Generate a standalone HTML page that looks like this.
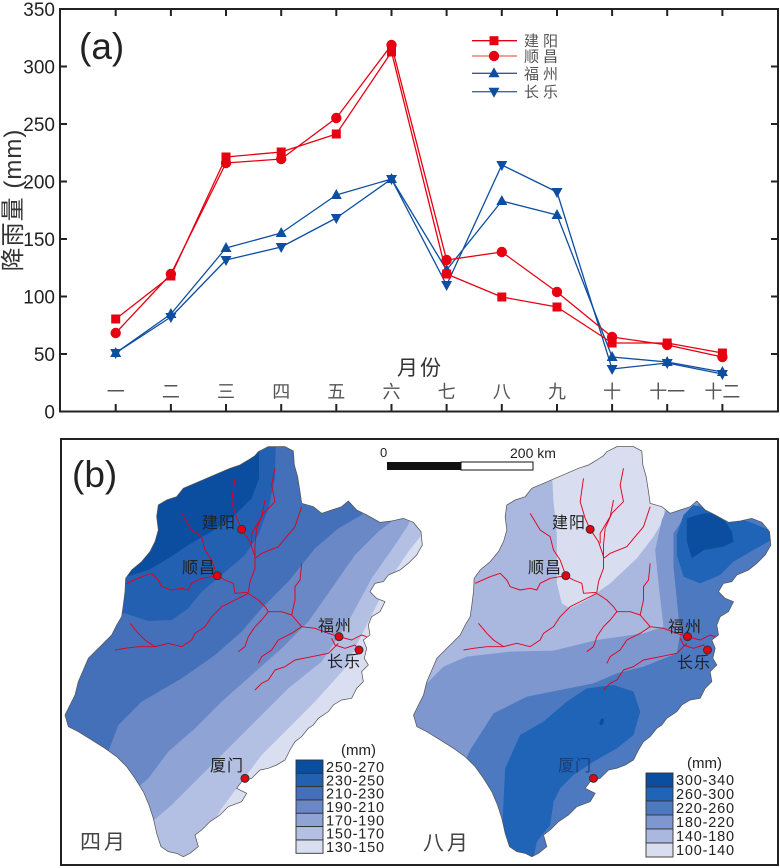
<!DOCTYPE html>
<html><head><meta charset="utf-8"><style>
html,body{margin:0;padding:0;background:#fff;}
svg{display:block;}
text{font-family:"Liberation Sans","Noto Sans CJK SC",sans-serif;}
.cjk{font-family:"Liberation Sans","Noto Sans CJK SC",sans-serif;}
</style></head><body>
<svg width="780" height="868" viewBox="0 0 780 868" xmlns="http://www.w3.org/2000/svg">
<defs>
<path id="outline" d="M 610,50 L 640,35 L 690,35 L 715,48 L 718,90 L 728,125 L 735,170 L 740,205 L 775,215 L 800,235 L 830,225 L 860,215 L 880,198 L 905,225 L 935,240 L 975,262 L 1010,258 L 1045,250 L 1075,262 L 1098,290 L 1102,330 L 1085,360 L 1060,385 L 1035,405 L 1000,420 L 985,440 L 960,445 L 945,470 L 965,490 L 990,500 L 975,530 L 950,545 L 940,570 L 945,600 L 925,615 L 935,640 L 928,670 L 940,690 L 920,710 L 925,740 L 905,760 L 890,790 L 860,795 L 835,810 L 820,830 L 790,850 L 775,870 L 760,880 L 740,905 L 720,920 L 705,945 L 690,975 L 665,990 L 640,1000 L 615,1005 L 590,1030 L 560,1040 L 545,1060 L 575,1075 L 560,1100 L 520,1115 L 495,1140 L 465,1160 L 440,1185 L 420,1200 L 430,1235 L 405,1255 L 385,1265 L 365,1255 L 340,1250 L 318,1235 L 305,1195 L 295,1150 L 282,1110 L 265,1070 L 240,1030 L 215,995 L 185,965 L 150,940 L 110,915 L 70,890 L 40,875 L 30,840 L 45,810 L 60,780 L 70,740 L 85,705 L 100,670 L 120,650 L 145,625 L 170,600 L 185,570 L 200,545 L 205,510 L 210,470 L 212,430 L 230,405 L 260,380 L 285,350 L 300,320 L 310,285 L 305,245 L 310,210 L 335,195 L 365,185 L 385,160 L 420,145 L 455,130 L 490,115 L 525,100 L 555,90 L 580,75 L 600,62 Z"/>
<clipPath id="clipmap" clipPathUnits="userSpaceOnUse"><use href="#outline"/></clipPath>
<g id="rivers" fill="none" stroke="#e3001b" stroke-width="2.8" stroke-linejoin="round">
<polyline points="540,130 530,200 545,250 560,283 585,320 600,365 600,400 585,440 580,472"/>
<polyline points="660,100 650,150 660,200 625,235 605,280 600,330 600,365"/>
<polyline points="630,195 620,245 590,295 590,325"/>
<polyline points="740,215 720,275 670,335 620,355 600,370"/>
<polyline points="380,235 410,285 440,305 450,345 470,375 487,422 510,435 535,445 540,475 580,472"/>
<polyline points="215,445 260,425 290,415 310,435 320,455 350,465 380,460 400,465 410,445 440,430 487,422"/>
<polyline points="580,475 540,495 500,515 470,545 450,575 420,595 410,615 380,635 340,625 300,635 250,635 210,640 180,645"/>
<polyline points="225,565 250,595 270,615 300,635"/>
<polyline points="580,475 610,495 630,515 640,530 680,530 710,540 740,575 780,580 820,595 852,605 890,615 920,600 935,605"/>
<polyline points="740,385 735,435 720,455 720,495 710,540"/>
<polyline points="640,530 620,555 600,575 580,605 570,635 550,650"/>
<polyline points="740,575 710,595 670,615 650,645 620,665 610,685"/>
<polyline points="850,625 820,655 770,665 720,675 690,695 660,705 640,735 620,745 600,765"/>
<polyline points="830,610 840,630 870,640 900,630 912,645"/>
</g>
<g id="cities" fill="#e60012" stroke="#333" stroke-width="3">
<circle cx="560" cy="283" r="12"/>
<circle cx="487" cy="422" r="12"/>
<circle cx="852" cy="605" r="12"/>
<circle cx="912" cy="645" r="12"/>
<circle cx="570" cy="1030" r="12"/>
</g>
</defs>

<!-- ================= Chart (a) ================= -->
<g stroke="#222" stroke-width="2" fill="none">
<rect x="60" y="9" width="718" height="402.5"/>
</g>
<g stroke="#222" stroke-width="2">
<line x1="115.7" y1="9" x2="115.7" y2="16"/><line x1="170.9" y1="9" x2="170.9" y2="16"/><line x1="226" y1="9" x2="226" y2="16"/><line x1="281.2" y1="9" x2="281.2" y2="16"/><line x1="336.3" y1="9" x2="336.3" y2="16"/><line x1="391.5" y1="9" x2="391.5" y2="16"/><line x1="446.6" y1="9" x2="446.6" y2="16"/><line x1="501.8" y1="9" x2="501.8" y2="16"/><line x1="557" y1="9" x2="557" y2="16"/><line x1="612.1" y1="9" x2="612.1" y2="16"/><line x1="667.2" y1="9" x2="667.2" y2="16"/><line x1="722.4" y1="9" x2="722.4" y2="16"/>
<line x1="115.7" y1="404" x2="115.7" y2="411"/><line x1="170.9" y1="404" x2="170.9" y2="411"/><line x1="226" y1="404" x2="226" y2="411"/><line x1="281.2" y1="404" x2="281.2" y2="411"/><line x1="336.3" y1="404" x2="336.3" y2="411"/><line x1="391.5" y1="404" x2="391.5" y2="411"/><line x1="446.6" y1="404" x2="446.6" y2="411"/><line x1="501.8" y1="404" x2="501.8" y2="411"/><line x1="557" y1="404" x2="557" y2="411"/><line x1="612.1" y1="404" x2="612.1" y2="411"/><line x1="667.2" y1="404" x2="667.2" y2="411"/><line x1="722.4" y1="404" x2="722.4" y2="411"/>
<line x1="60" y1="354" x2="67" y2="354"/><line x1="60" y1="296.5" x2="67" y2="296.5"/><line x1="60" y1="239" x2="67" y2="239"/><line x1="60" y1="181.5" x2="67" y2="181.5"/><line x1="60" y1="124" x2="67" y2="124"/><line x1="60" y1="66.5" x2="67" y2="66.5"/>
<line x1="771" y1="354" x2="778" y2="354"/><line x1="771" y1="296.5" x2="778" y2="296.5"/><line x1="771" y1="239" x2="778" y2="239"/><line x1="771" y1="181.5" x2="778" y2="181.5"/><line x1="771" y1="124" x2="778" y2="124"/><line x1="771" y1="66.5" x2="778" y2="66.5"/>
</g>
<g font-size="19" fill="#222" text-anchor="end">
<text x="55" y="418.5">0</text><text x="55" y="361">50</text><text x="55" y="303.5">100</text><text x="55" y="246">150</text><text x="55" y="188.5">200</text><text x="55" y="131">250</text><text x="55" y="73.5">300</text><text x="55" y="16">350</text>
</g>
<text class="cjk" transform="translate(21,200) rotate(-90)" text-anchor="middle" font-size="24" fill="#333" letter-spacing="1">降雨量 (mm)</text>
<text x="79" y="59" font-size="37" fill="#222">(a)</text>

<g class="cjk" font-size="18" fill="#555" text-anchor="middle">
<text x="115.7" y="398">一</text><text x="170.9" y="398">二</text><text x="226" y="398">三</text><text x="281.2" y="398">四</text><text x="336.3" y="398">五</text><text x="391.5" y="398">六</text><text x="446.6" y="398">七</text><text x="501.8" y="398">八</text><text x="557" y="398">九</text><text x="612.1" y="398">十</text><text x="667.2" y="398">十一</text><text x="722.4" y="398">十二</text>
</g>
<text class="cjk" x="420" y="375" font-size="21" fill="#333" text-anchor="middle" letter-spacing="2">月份</text>

<!-- series lines -->
<g fill="none" stroke-width="1.3" stroke-linejoin="round">
<polyline stroke="#0d4ea0" points="115.7,353 170.9,314 226,248 281.2,233 336.3,195 391.5,179 446.6,270 501.8,201 557,215 612.1,357 667.2,362 722.4,372"/>
<polyline stroke="#0d4ea0" points="115.7,353 170.9,317 226,260 281.2,247 336.3,218 391.5,179 446.6,285 501.8,165 557,192 612.1,369 667.2,363 722.4,374"/>
<polyline stroke="#e60012" points="115.7,319 170.9,276 226,157 281.2,152 336.3,134 391.5,52 446.6,274 501.8,297 557,307 612.1,343 667.2,343 722.4,353"/>
<polyline stroke="#e60012" points="115.7,333 170.9,274 226,163 281.2,159 336.3,118 391.5,45 446.6,260 501.8,252 557,292 612.1,337 667.2,345 722.4,357"/>
</g>
<!-- markers -->
<g fill="#0d4ea0">
<polygon points="115.7,347 110.2,357 121.2,357"/><polygon points="170.9,308 165.4,318 176.4,318"/><polygon points="226,242 220.5,252 231.5,252"/><polygon points="281.2,227 275.7,237 286.7,237"/><polygon points="336.3,189 330.8,199 341.8,199"/><polygon points="391.5,173 386,183 397,183"/><polygon points="446.6,264 441.1,274 452.1,274"/><polygon points="501.8,195 496.3,205 507.3,205"/><polygon points="557,209 551.5,219 562.5,219"/><polygon points="612.1,351 606.6,361 617.6,361"/><polygon points="667.2,356 661.7,366 672.7,366"/><polygon points="722.4,366 716.9,376 727.9,376"/>
<polygon points="115.7,359 110.2,349 121.2,349"/><polygon points="170.9,323 165.4,313 176.4,313"/><polygon points="226,266 220.5,256 231.5,256"/><polygon points="281.2,253 275.7,243 286.7,243"/><polygon points="336.3,224 330.8,214 341.8,214"/><polygon points="391.5,185 386,175 397,175"/><polygon points="446.6,291 441.1,281 452.1,281"/><polygon points="501.8,171 496.3,161 507.3,161"/><polygon points="557,198 551.5,188 562.5,188"/><polygon points="612.1,375 606.6,365 617.6,365"/><polygon points="667.2,369 661.7,359 672.7,359"/><polygon points="722.4,380 716.9,370 727.9,370"/>
</g>
<g fill="#e60012">
<rect x="111.2" y="314.5" width="9" height="9"/><rect x="166.4" y="271.5" width="9" height="9"/><rect x="221.5" y="152.5" width="9" height="9"/><rect x="276.7" y="147.5" width="9" height="9"/><rect x="331.8" y="129.5" width="9" height="9"/><rect x="387" y="47.5" width="9" height="9"/><rect x="442.1" y="269.5" width="9" height="9"/><rect x="497.3" y="292.5" width="9" height="9"/><rect x="552.5" y="302.5" width="9" height="9"/><rect x="607.6" y="338.5" width="9" height="9"/><rect x="662.7" y="338.5" width="9" height="9"/><rect x="717.9" y="348.5" width="9" height="9"/>
<circle cx="115.7" cy="333" r="5.2"/><circle cx="170.9" cy="274" r="5.2"/><circle cx="226" cy="163" r="5.2"/><circle cx="281.2" cy="159" r="5.2"/><circle cx="336.3" cy="118" r="5.2"/><circle cx="391.5" cy="45" r="5.2"/><circle cx="446.6" cy="260" r="5.2"/><circle cx="501.8" cy="252" r="5.2"/><circle cx="557" cy="292" r="5.2"/><circle cx="612.1" cy="337" r="5.2"/><circle cx="667.2" cy="345" r="5.2"/><circle cx="722.4" cy="357" r="5.2"/>
</g>
<!-- legend -->
<g stroke-width="1.3">
<line x1="472" y1="40.7" x2="517" y2="40.7" stroke="#e60012"/>
<line x1="472" y1="56" x2="517" y2="56" stroke="#e06a50"/>
<line x1="472" y1="73.3" x2="517" y2="73.3" stroke="#2a5aa8"/>
<line x1="472" y1="91.7" x2="517" y2="91.7" stroke="#3a68b0"/>
</g>
<rect x="489.5" y="36.2" width="9" height="9" fill="#e60012"/>
<circle cx="494" cy="56" r="5.2" fill="#e60012"/>
<polygon points="494,67.3 488.5,77.3 499.5,77.3" fill="#0d4ea0"/>
<polygon points="494,97.7 488.5,87.7 499.5,87.7" fill="#0d4ea0"/>
<g class="cjk" font-size="15" fill="#555" letter-spacing="4">
<text x="524" y="46">建阳</text><text x="524" y="61.5">顺昌</text><text x="524" y="79">福州</text><text x="524" y="97">长乐</text>
</g>

<!-- ================= Panel (b) ================= -->
<rect x="61" y="439" width="717" height="426" fill="none" stroke="#222" stroke-width="2"/>
<text x="72" y="487" font-size="37" fill="#222">(b)</text>

<!-- April map -->
<g transform="translate(55,435) scale(0.33333)">
<use href="#outline" fill="#d9def0"/>
<g clip-path="url(#clipmap)">
<polygon fill="#b3c0e3" points="420,1320 450,1210 500,1120 560,1040 620,960 700,880 780,800 870,700 940,560 1000,440 1060,350 1100,300 1160,200 1160,-100 -100,-100 -100,1320"/>
<polygon fill="#8fa4d4" points="230,1320 280,1170 350,1110 420,1040 480,980 540,920 620,840 700,760 800,680 880,560 950,430 1020,330 1060,270 1090,150 1090,-100 -100,-100 -100,1320"/>
<polygon fill="#6a88c6" points="150,1150 200,1100 280,1030 340,950 420,880 500,800 590,720 680,640 760,560 830,460 900,360 970,290 1010,260 1040,150 1040,-100 -100,-100 -100,1150"/>
<polygon fill="#4470ba" points="100,1020 160,950 190,870 260,800 380,730 480,660 560,590 620,520 700,440 780,340 850,280 920,240 960,150 960,-100 -100,-100 -100,1020"/>
<polygon fill="#2360b2" points="-100,540 210,535 280,558 350,555 400,520 440,470 500,420 570,360 610,300 640,220 660,130 665,-100 -100,-100"/>
<polygon fill="#0b4d9f" points="-100,440 215,425 280,405 340,370 400,330 470,290 540,240 590,190 612,130 612,-100 -100,-100"/>
</g>
<use href="#outline" fill="none" stroke="#555" stroke-width="2.2"/>
<use href="#rivers"/>
<use href="#cities"/>
</g>

<!-- August map -->
<g transform="translate(403.5,435) scale(0.33333)">
<use href="#outline" fill="#aab8df"/>
<g clip-path="url(#clipmap)">
<polygon fill="#d8ddef" points="430,-100 445,110 450,200 460,295 460,445 475,505 500,520 550,495 620,445 700,370 750,305 780,255 790,150 800,-100"/>
<polygon fill="#7e97cf" points="-100,755 60,755 120,695 190,665 320,650 450,647 580,615 720,595 780,575 765,445 755,345 775,255 800,200 830,150 1300,150 1300,1400 -100,1400"/>
<polygon fill="#4c79c0" points="150,1400 150,1050 200,945 270,835 370,785 470,765 570,745 640,715 720,695 770,675 820,655 830,595 820,495 810,395 810,295 850,235 890,205 900,-100 1300,-100 1300,1400"/>
<polygon fill="#1f64b6" points="305,1000 350,900 420,860 490,800 550,760 630,750 690,770 710,830 690,900 640,940 570,980 510,1020 470,1060 450,1100 440,1170 400,1220 380,1320 290,1320 300,1100"/>
<polygon fill="#1f64b6" points="820,300 840,240 870,210 940,230 1050,265 1130,300 1050,345 990,380 950,420 890,445 840,425 820,360"/>
<polygon fill="#0b4d9f" points="850,250 900,235 950,235 985,290 990,320 960,335 900,345 865,370 850,320"/>
<ellipse cx="595" cy="860" rx="6" ry="11" transform="rotate(20 595 860)" fill="#0b4d9f"/>
</g>
<use href="#outline" fill="none" stroke="#555" stroke-width="2.2"/>
<use href="#rivers"/>
<use href="#cities"/>
</g>

<!-- map city labels -->
<g class="cjk" font-size="16" fill="#222" letter-spacing="1">
<text x="202" y="528">建阳</text><text x="182" y="573">顺昌</text><text x="318" y="631">福州</text><text x="327" y="667">长乐</text><text x="210" y="771">厦门</text>
<text x="552" y="528">建阳</text><text x="528" y="573">顺昌</text><text x="668" y="632">福州</text><text x="677" y="668">长乐</text><text x="558" y="771" fill="#1a3f7a">厦门</text>
</g>

<!-- scale bar -->
<text x="380" y="457" font-size="13" fill="#222">0</text>
<rect x="387" y="462" width="74" height="8" fill="#111"/>
<rect x="461" y="462" width="72" height="8" fill="#fff" stroke="#111" stroke-width="1"/>
<text x="510" y="458" font-size="14" fill="#222">200 km</text>

<!-- month names -->
<text class="cjk" x="80" y="849" font-size="21" fill="#444" letter-spacing="3">四月</text>
<text class="cjk" x="423" y="850" font-size="21" fill="#444" letter-spacing="3">八月</text>

<!-- April legend -->
<text x="341" y="755" font-size="15" fill="#222">(mm)</text>
<g stroke="#333" stroke-width="0.9">
<rect x="296" y="760" width="27" height="13.3" fill="#0b4d9f"/>
<rect x="296" y="773.3" width="27" height="13.3" fill="#2360b2"/>
<rect x="296" y="786.6" width="27" height="13.3" fill="#4470ba"/>
<rect x="296" y="800" width="27" height="13.3" fill="#6a88c6"/>
<rect x="296" y="813.3" width="27" height="13.3" fill="#8fa4d4"/>
<rect x="296" y="826.6" width="27" height="13.3" fill="#b3c0e3"/>
<rect x="296" y="840" width="27" height="13.3" fill="#d9def0"/>
</g>
<g font-size="14.5" fill="#222" letter-spacing="0.8">
<text x="326" y="772">250-270</text><text x="326" y="785.3">230-250</text><text x="326" y="798.6">210-230</text><text x="326" y="812">190-210</text><text x="326" y="825.3">170-190</text><text x="326" y="838.6">150-170</text><text x="326" y="852">130-150</text>
</g>

<!-- August legend -->
<text x="687" y="768" font-size="15" fill="#222">(mm)</text>
<g stroke="#333" stroke-width="0.9">
<rect x="646" y="773" width="27" height="14" fill="#0b4d9f"/>
<rect x="646" y="787" width="27" height="14" fill="#1f64b6"/>
<rect x="646" y="801" width="27" height="14" fill="#4c79c0"/>
<rect x="646" y="815" width="27" height="14" fill="#7e97cf"/>
<rect x="646" y="829" width="27" height="14" fill="#aab8df"/>
<rect x="646" y="843" width="27" height="14" fill="#d8ddef"/>
</g>
<g font-size="14.5" fill="#222" letter-spacing="0.8">
<text x="676" y="785">300-340</text><text x="676" y="799">260-300</text><text x="676" y="813">220-260</text><text x="676" y="827">180-220</text><text x="676" y="841">140-180</text><text x="676" y="855">100-140</text>
</g>
</svg>
</body></html>
